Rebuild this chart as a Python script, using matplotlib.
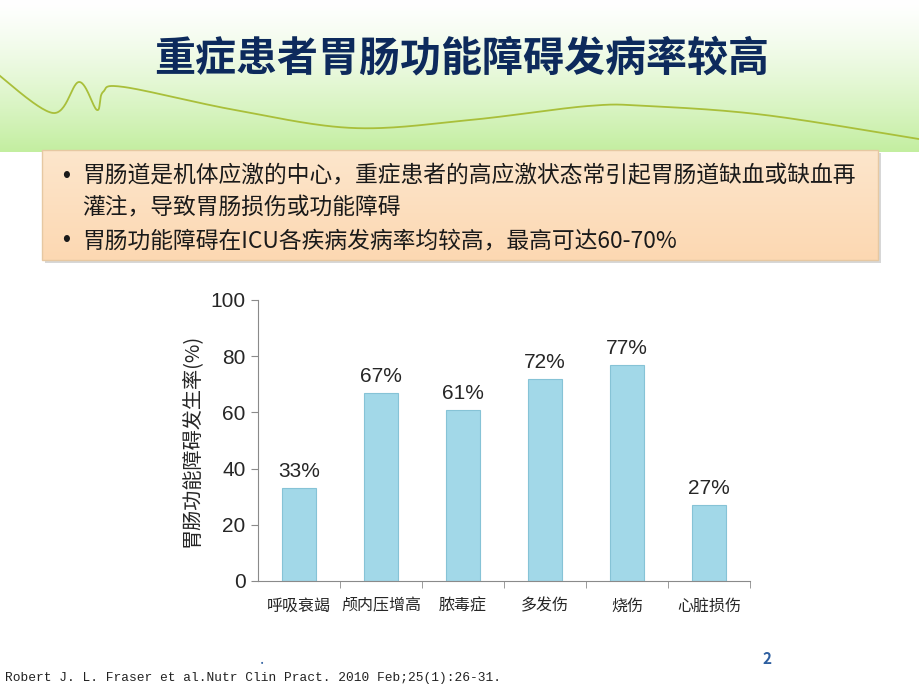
import numpy as np
import matplotlib
matplotlib.use("Agg")
import matplotlib.pyplot as plt
from matplotlib.colors import to_rgb
from matplotlib.ticker import FixedLocator

plt.rcParams['font.family'] = ['Noto Sans CJK SC', 'DejaVu Sans']

# ---- data ----
CATS = ["呼吸衰竭", "颅内压增高", "脓毒症", "多发伤", "烧伤", "心脏损伤"]
RATES = [33, 67, 61, 72, 77, 27]
YTICKS = [0, 20, 40, 60, 80, 100]
TITLE = "重症患者胃肠功能障碍发病率较高"
YLABEL = "胃肠功能障碍发生率(%)"
BULLET_1 = ["胃肠道是机体应激的中心，重症患者的高应激状态常引起胃肠道缺血或缺血再",
            "灌注，导致胃肠损伤或功能障碍"]
BULLET_2 = "胃肠功能障碍在ICU各疾病发病率均较高，最高可达60-70%"
SOURCE = "Robert J. L. Fraser et al.Nutr Clin Pract. 2010 Feb;25(1):26-31."
PAGE = "2"

NAVY, INK = "#0d2a5c", "#1a1a1a"
BAR, BAR_EDGE = "#a2d8e8", "#86c3d6"
AXIS = "#8a8a8a"
LATIN = ["Liberation Sans", "DejaVu Sans"]

W, H = 920, 690
fig = plt.figure(figsize=(W / 100, H / 100), dpi=100)

# page background in pixel coords
bg = fig.add_axes([0, 0, 1, 1])
bg.axis("off")

# green header gradient
t = np.linspace(0, 1, 200)[:, None, None] ** 1.3
top, bot = np.array(to_rgb("#ffffff")), np.array(to_rgb("#c3eea0"))
img = np.repeat(top + (bot - top) * t, 2, axis=1)
bg.imshow(img, extent=[0, W, 152, 0], aspect="auto", zorder=0)

# decorative wave (catmull-rom through a few anchors)
anc = np.array([(-5, 72), (53, 113), (79, 82), (97, 110), (103, 92), (124, 87),
                (235, 110), (353, 128), (470, 120), (588, 106), (647, 106),
                (765, 115), (925, 140)], float)
pts = []
P = np.vstack([anc[0], anc, anc[-1]])
for i in range(1, len(P) - 2):
    p0, p1, p2, p3 = P[i - 1], P[i], P[i + 1], P[i + 2]
    s = np.linspace(0, 1, 30)[:, None]
    pts.append(0.5 * ((2 * p1) + (-p0 + p2) * s + (2 * p0 - 5 * p1 + 4 * p2 - p3) * s ** 2
                      + (-p0 + 3 * p1 - 3 * p2 + p3) * s ** 3))
pts = np.vstack(pts)
bg.plot(pts[:, 0], pts[:, 1], color="#a9bf3a", lw=1.3, zorder=1)

bg.text(W / 2 + 2, 58, TITLE, fontsize=29.5, fontweight="bold", color=NAVY,
        ha="center", va="center", zorder=3)

# peach text box with shadow
bg.add_patch(plt.Rectangle((45, 153), 836, 110, fc="#b0b0b0", ec="none", alpha=0.5, zorder=2))
t2 = np.linspace(0, 1, 100)[:, None, None]
btop, bbot = np.array(to_rgb("#fde6cc")), np.array(to_rgb("#fcd8b2"))
bimg = np.repeat(btop + (bbot - btop) * t2, 2, axis=1)
bg.imshow(bimg, extent=[42, 878, 260, 150], aspect="auto", zorder=3)
bg.add_patch(plt.Rectangle((42, 150), 836, 110, fc="none", ec="#e6c8a2", lw=1, zorder=4))

fs = 16.4
bg.text(62, 176, "•", fontsize=fs, color=INK, ha="left", va="center", zorder=5, family=LATIN)
bg.text(82, 176, BULLET_1[0], fontsize=fs, color=INK, ha="left", va="center", zorder=5)
bg.text(82, 207, BULLET_1[1], fontsize=fs, color=INK, ha="left", va="center", zorder=5)
bg.text(62, 241, "•", fontsize=fs, color=INK, ha="left", va="center", zorder=5, family=LATIN)
bg.text(82, 241, BULLET_2, fontsize=fs, color=INK, ha="left", va="center", zorder=5)

# footer
bg.text(5, 678, SOURCE, fontsize=9.3, family="Liberation Mono", color="#222222",
        ha="left", va="center")
bg.text(262, 660, ".", fontsize=11, color="#2e5fa0", ha="center", va="center")
bg.text(767, 659, PAGE, fontsize=11, fontweight="bold", color="#2e5fa0",
        ha="center", va="center")

bg.set_xlim(0, W)
bg.set_ylim(H, 0)

# ---- bar chart ----
ax = fig.add_axes([258 / W, 1 - 581 / H, (750 - 258) / W, (581 - 300) / H])
x = np.arange(len(CATS))
ax.bar(x, RATES, width=0.41, color=BAR, edgecolor=BAR_EDGE, linewidth=0.8, zorder=2)
for xi, v in zip(x, RATES):
    ax.annotate(f"{v}%", (xi, v), xytext=(0, 5), textcoords="offset points",
                ha="center", va="bottom", fontsize=15, color="#262626", family=LATIN)

ax.set_xlim(-0.5, len(CATS) - 0.5)
ax.set_ylim(0, 100)
ax.set_yticks(YTICKS)
ax.set_yticklabels([str(v) for v in YTICKS], family=LATIN, fontsize=15, color="#262626")
ax.set_xticks(x)
ax.set_xticklabels(CATS, fontsize=11.5, color="#262626")
ax.xaxis.set_minor_locator(FixedLocator(np.arange(len(CATS)) + 0.5))
ax.tick_params(axis="x", which="major", length=0, pad=12)
ax.tick_params(axis="x", which="minor", length=5, color=AXIS, direction="out")
ax.tick_params(axis="y", length=5, color=AXIS, direction="out", pad=4)
ax.set_ylabel(YLABEL, fontsize=14.5, color="#262626", labelpad=6)
for sp in ("top", "right"):
    ax.spines[sp].set_visible(False)
for sp in ("left", "bottom"):
    ax.spines[sp].set_color(AXIS)
ax.patch.set_alpha(0)

fig.savefig("out.png", dpi=100, facecolor="white")
